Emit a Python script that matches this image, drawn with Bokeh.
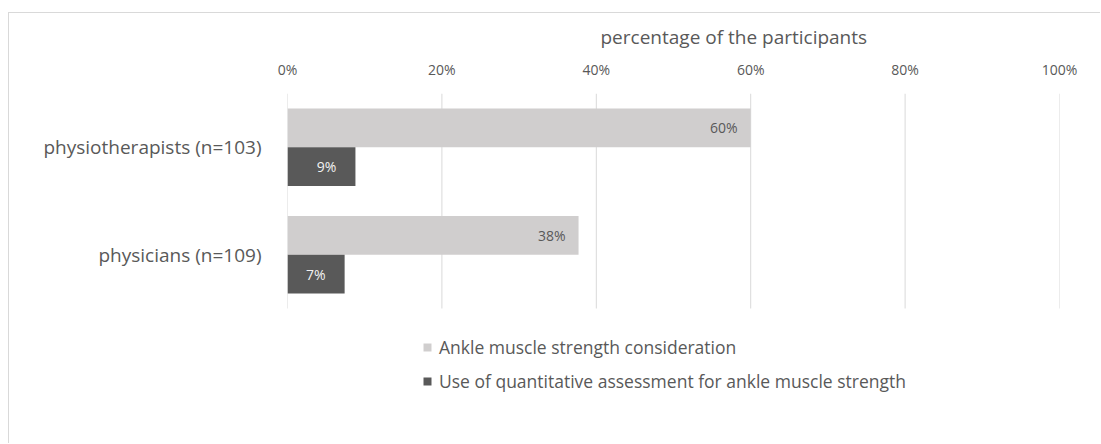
from bokeh.plotting import figure
from bokeh.models import ColumnDataSource, Range1d, LabelSet, Legend, LegendItem, NumeralTickFormatter, FixedTicker
from bokeh.core.properties import value
from bokeh.transform import dodge
from bokeh.embed import file_html
from bokeh.resources import INLINE

categories = ["physicians (n=109)", "physiotherapists (n=103)"]
series_names = ["Ankle muscle strength consideration",
                "Use of quantitative assessment for ankle muscle strength"]
consideration = [0.377, 0.60]
quantitative = [0.074, 0.088]
x_ticks = [0, 0.2, 0.4, 0.6, 0.8, 1.0]

FONT = "Open Sans"
TXT = "#595959"

ypos = list(range(1, len(categories) + 1))
src = ColumnDataSource(dict(
    y=ypos,
    a=consideration,
    b=quantitative,
    a_lab=[f"{round(v*100)}%" for v in consideration],
    b_lab=[f"{round(v*100)}%" for v in quantitative],
))

p = figure(width=1092, height=431,
           x_range=Range1d(0, 1), y_range=Range1d(-0.765, 2.5), x_axis_location="above",
           output_backend="svg", toolbar_location=None,
           min_border_left=278, min_border_right=42, min_border_top=80, min_border_bottom=0,
           margin=(12, 0, 0, 8))
p.styles = {"border-top": "1px solid #d9d9d9", "border-left": "1px solid #d9d9d9"}
p.outline_line_color = None

p.title.text = "percentage of the participants"
p.title.text_font = FONT
p.title.text_font_size = "19px"
p.title.text_font_style = "normal"
p.title.text_color = TXT
p.title.align = "left"
p.title.offset = 313
p.title.standoff = 14

# vertical gridlines restricted to the category band
p.segment(x0=x_ticks, y0=[0.5] * len(x_ticks), x1=x_ticks, y1=[2.5] * len(x_ticks),
          line_color="#d9d9d9", line_width=1)

ra = p.hbar(y=dodge("y", 0.18), right="a", left=0, height=0.36,
            source=src, fill_color="#d0cece", line_color=None)
rb = p.hbar(y=dodge("y", -0.18), right="b", left=0, height=0.36,
            source=src, fill_color="#595959", line_color=None)

la = LabelSet(x="a", y=dodge("y", 0.18), text="a_lab", source=src,
              x_offset=-13, text_align="right", text_baseline="middle",
              text_font=value(FONT), text_font_size=value("14px"), text_color=TXT)
lb = LabelSet(x="b", y=dodge("y", -0.18), text="b_lab", source=src,
              x_offset=-19, text_align="right", text_baseline="middle",
              text_font=value(FONT), text_font_size=value("14px"), text_color="#f2f2f2")
p.add_layout(la)
p.add_layout(lb)

xa = p.xaxis[0]
xa.ticker = FixedTicker(ticks=x_ticks)
xa.formatter = NumeralTickFormatter(format="0%")
xa.axis_line_color = None
xa.major_tick_line_color = None
xa.minor_tick_line_color = None
xa.major_label_text_font = FONT
xa.major_label_text_font_size = "14px"
xa.major_label_text_color = TXT
xa.major_label_standoff = 9

ya = p.yaxis[0]
ya.ticker = FixedTicker(ticks=ypos)
ya.major_label_overrides = {y: c for y, c in zip(ypos, categories)}
ya.axis_line_color = None
ya.major_tick_line_color = None
ya.minor_tick_line_color = None
ya.major_label_text_font = FONT
ya.major_label_text_font_size = "19px"
ya.major_label_text_color = TXT
ya.major_label_standoff = 20

p.xgrid.grid_line_color = None
p.ygrid.grid_line_color = None

legend = Legend(items=[LegendItem(label=series_names[0], renderers=[ra]),
                       LegendItem(label=series_names[1], renderers=[rb])],
                location=(135, 51), orientation="vertical",
                glyph_width=10, glyph_height=10, label_height=20, spacing=10,
                label_standoff=7, padding=0, margin=0,
                label_text_font=FONT, label_text_font_size="17.5px", label_text_color=TXT,
                border_line_color=None, background_fill_alpha=0)
p.add_layout(legend)

open("out.html", "w").write(file_html(p, INLINE))
